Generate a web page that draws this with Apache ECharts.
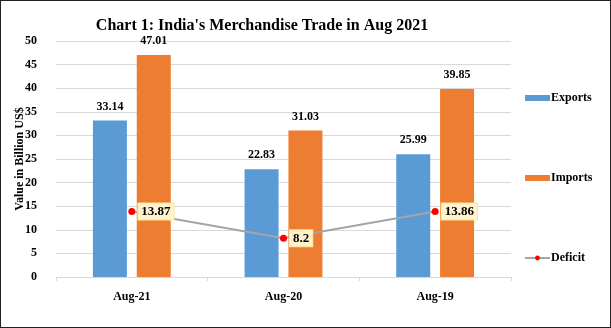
<!DOCTYPE html>
<html>
<head>
<meta charset="utf-8">
<script src="https://cdn.jsdelivr.net/npm/echarts@6/dist/echarts.min.js"></script>
<style>
  html, body { margin: 0; padding: 0; background: #fff; }
  #chart { width: 611px; height: 328px; box-sizing: border-box; border: 1px solid #222; }
</style>
</head>
<body>
<div id="chart"></div>
<script>
// Monthly merchandise trade, billion US$
const categories = ['Aug-21', 'Aug-20', 'Aug-19'];
const exportsData = [33.14, 22.83, 25.99];
const importsData = [47.01, 31.03, 39.85];
const deficitData = [13.87, 8.2, 13.86];
const yTicks = { min: 0, max: 50, interval: 5 };

const serif = '"Liberation Serif", "DejaVu Serif", serif';

const chart = echarts.init(document.getElementById('chart'), null, { renderer: 'canvas' });
chart.setOption({
  animation: false,
  backgroundColor: '#fff',
  title: {
    text: "Chart 1: India's Merchandise Trade in Aug 2021",
    left: 256,
    top: 12,
    textAlign: 'center',
    textStyle: { fontFamily: serif, fontWeight: 'bold', fontSize: 16, color: '#000' }
  },
  grid: { left: 55, right: 99, top: 40, bottom: 50, outerBoundsMode: 'none', containLabel: false },
  legend: {
    orient: 'vertical',
    left: 518,
    top: 86,
    itemGap: 68,
    itemWidth: 25,
    itemHeight: 6,
    textStyle: { fontFamily: serif, fontWeight: 'bold', fontSize: 12, color: '#000', padding: [0, 0, 0, -4] },
    data: [
      { name: 'Exports', icon: 'rect' },
      { name: 'Imports', icon: 'rect' },
      { name: 'Deficit' }
    ]
  },
  xAxis: {
    type: 'category',
    data: categories,
    axisLine: { lineStyle: { color: '#D9D9D9' } },
    axisTick: { show: true, length: 4, lineStyle: { color: '#D9D9D9' } },
    axisLabel: { fontFamily: serif, fontWeight: 'bold', fontSize: 12, color: '#000', margin: 14 }
  },
  yAxis: {
    type: 'value',
    min: yTicks.min,
    max: yTicks.max,
    interval: yTicks.interval,
    name: 'Value in Billion US$',
    nameLocation: 'middle',
    nameGap: 30,
    nameMoveOverlap: false,
    nameTextStyle: { fontFamily: serif, fontWeight: 'bold', fontSize: 12, color: '#000' },
    axisLine: { show: false },
    axisTick: { show: false },
    axisLabel: { fontFamily: serif, fontWeight: 'bold', fontSize: 12, color: '#000', margin: 19 },
    splitLine: { lineStyle: { color: '#D9D9D9' } }
  },
  series: [
    {
      name: 'Exports',
      type: 'bar',
      data: exportsData,
      barWidth: 34,
      barGap: '29%',
      itemStyle: { color: '#5B9BD5' },
      label: { show: true, position: 'top', distance: 8, fontFamily: serif, fontWeight: 'bold', fontSize: 12, color: '#000' }
    },
    {
      name: 'Imports',
      type: 'bar',
      data: importsData,
      barWidth: 34,
      itemStyle: { color: '#ED7D31' },
      label: { show: true, position: 'top', distance: 8, fontFamily: serif, fontWeight: 'bold', fontSize: 12, color: '#000' }
    },
    {
      name: 'Deficit',
      type: 'line',
      data: deficitData,
      symbol: 'circle',
      symbolSize: 7,
      itemStyle: { color: '#FF0000' },
      lineStyle: { color: '#A5A5A5', width: 2 },
      z: 5,
      label: {
        show: true,
        position: 'right',
        distance: 3,
        fontFamily: serif,
        fontWeight: 'bold',
        fontSize: 13,
        color: '#000',
        backgroundColor: '#FFF2CC',
        borderColor: '#FFE699',
        borderWidth: 1,
        padding: [2, 3, 1, 3]
      }
    }
  ]
});
</script>
</body>
</html>
